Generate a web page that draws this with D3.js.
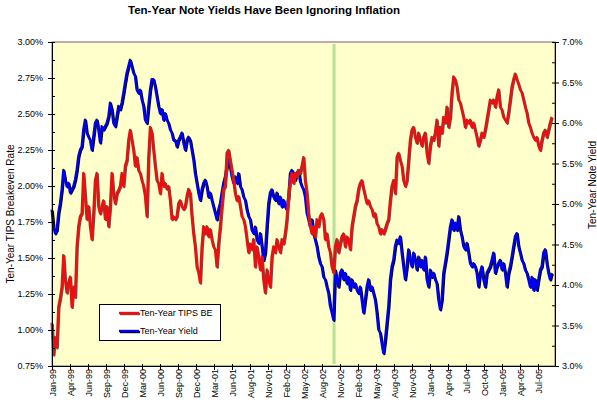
<!DOCTYPE html>
<html><head><meta charset="utf-8">
<script src="https://cdn.jsdelivr.net/npm/d3@7/dist/d3.min.js"></script>
<style>
html,body{margin:0;padding:0;background:#fff;}
svg text{font-family:"Liberation Sans",Arial,sans-serif;}
</style></head>
<body>
<svg id="chart" width="597" height="405"></svg>
<script>
// ---- data ----
const title = "Ten-Year Note Yields Have Been Ignoring Inflation";
const xLabels = ["Jan-99","Apr-99","Jun-99","Sep-99","Dec-99","Mar-00","Jun-00","Sep-00","Dec-00","Mar-01","Jun-01","Aug-01","Nov-01","Feb-02","May-02","Aug-02","Nov-02","Feb-03","May-03","Aug-03","Nov-03","Jan-04","Apr-04","Jul-04","Oct-04","Jan-05","Apr-05","Jul-05"];
const leftTicks = [0.75,1.00,1.25,1.50,1.75,2.00,2.25,2.50,2.75,3.00];
const rightTicks = [3.0,3.5,4.0,4.5,5.0,5.5,6.0,6.5,7.0];
const seriesNames = ["Ten-Year TIPS BE","Ten-Year Yield"];
// roughly weekly observations, ~10.8 per axis label slot
const samplesPerSlot = 10.8;
const firstSampleOffset = -0.2;
const markerSlot = 15.67; // Oct-02 marker
const tipsBE = [
1.05,0.83,0.95,0.88,1.16,1.22,1.30,1.52,1.35,1.26,1.33,1.37,1.16,1.30,1.23,1.58,1.72,1.79,1.81,2.09,
1.93,1.77,1.86,1.72,1.63,1.81,2.04,2.09,1.86,1.81,1.86,1.90,1.77,1.86,1.72,1.86,2.09,1.95,1.88,1.95,
1.97,2.00,2.09,2.00,2.14,2.18,2.32,2.39,2.32,2.25,2.14,2.20,2.11,2.09,2.04,2.00,1.93,1.79,2.20,2.41,
2.37,2.25,2.14,2.04,2.02,1.95,2.09,2.00,2.02,1.98,2.00,1.90,1.77,1.79,
1.77,1.79,1.88,1.90,1.86,1.84,1.86,1.93,1.98,1.95,1.79,1.67,1.58,1.44,1.40,1.33,1.58,1.72,1.67,1.72,
1.65,1.70,1.63,1.58,1.56,1.44,1.60,1.72,1.86,1.98,2.00,2.23,2.25,2.18,2.11,2.04,1.95,1.90,1.93,1.86,
1.79,1.77,1.72,1.63,1.54,1.60,1.56,1.63,1.44,1.58,1.51,1.42,1.51,1.35,1.26,1.42,1.35,1.30,1.51,1.58,
1.54,1.63,1.58,1.54,1.63,1.60,1.67,1.77,1.93,2.04,2.09,2.02,2.09,2.07,2.11,
2.09,2.14,2.20,2.04,1.95,1.81,1.72,1.67,1.72,1.65,1.77,1.72,1.79,1.81,1.77,1.63,1.67,1.58,1.54,1.44,
1.40,1.58,1.63,1.54,1.60,1.65,1.67,1.58,1.65,1.63,1.56,1.72,1.79,1.86,1.90,1.98,2.02,2.04,1.98,1.93,
1.88,1.90,1.86,1.84,1.79,1.81,1.74,1.72,1.67,1.70,1.67,1.70,1.74,1.77,1.90,2.00,2.04,1.95,2.20,2.23,
2.18,2.14,2.04,2.00,2.04,2.18,2.32,2.39,2.41,2.34,2.30,2.37,2.32,2.28,2.34,
2.37,2.23,2.16,2.28,2.34,2.32,2.37,2.46,2.28,2.41,2.37,2.48,2.44,2.55,2.41,2.48,2.65,2.76,2.74,2.69,
2.60,2.58,2.53,2.48,2.41,2.46,2.44,2.46,2.41,2.44,2.39,2.34,2.28,2.32,2.37,2.34,2.39,2.46,2.53,2.60,
2.58,2.60,2.55,2.62,2.67,2.55,2.53,2.48,2.46,2.44,2.51,2.60,2.69,2.74,2.78,2.74,2.71,2.67,2.65,2.60,
2.55,2.51,2.44,2.41,2.37,2.34,2.32,2.34,2.28,2.25,2.32,2.37,2.39,2.34,2.39,2.44,2.48
];
const noteYield = [
4.93,4.72,4.64,4.68,4.89,5.01,5.18,5.42,5.30,5.22,5.26,5.14,5.18,5.22,5.30,5.42,5.59,5.67,5.71,5.92,
6.04,5.88,5.83,5.79,5.67,5.83,6.00,6.04,5.92,5.76,5.96,5.92,5.96,6.00,6.08,6.25,6.17,6.00,5.96,6.08,
6.21,6.17,6.25,6.37,6.50,6.62,6.70,6.78,6.70,6.62,6.58,6.41,6.37,6.41,6.29,6.21,6.04,6.00,6.21,6.41,
6.54,6.54,6.45,6.33,6.21,6.12,6.17,6.04,6.12,6.04,6.00,5.92,5.88,5.79,
5.79,5.71,5.79,5.83,5.88,5.76,5.67,5.79,5.83,5.79,5.67,5.55,5.38,5.26,5.14,5.05,5.18,5.26,5.30,5.22,
5.09,5.14,5.05,4.97,4.89,4.81,4.93,5.01,5.14,5.26,5.34,5.46,5.55,5.46,5.34,5.26,5.34,5.26,5.38,5.22,
5.18,5.09,5.05,4.93,4.85,4.81,4.68,4.64,4.72,4.56,4.52,4.64,4.48,4.31,4.40,4.72,5.01,5.14,5.18,5.09,
5.05,5.14,5.01,5.09,4.97,5.05,4.97,4.93,5.09,5.38,5.42,5.38,5.30,5.38,5.42,
5.28,5.22,5.18,5.09,4.89,4.81,4.72,4.81,4.64,4.56,4.48,4.35,4.27,4.23,4.10,4.07,3.98,3.90,3.74,3.66,
3.57,4.19,4.07,3.98,4.15,4.19,4.07,4.15,4.02,4.10,3.94,4.07,3.98,4.02,3.94,3.90,3.98,3.82,3.66,3.82,
3.98,4.07,3.94,3.98,3.90,3.82,3.66,3.45,3.41,3.28,3.16,3.32,3.53,3.74,4.07,4.23,4.31,4.48,4.56,4.52,
4.60,4.40,4.23,4.07,4.23,4.44,4.31,4.23,4.40,4.31,4.19,4.35,4.23,4.31,4.19,
4.35,4.07,3.98,4.19,4.10,4.15,4.07,4.02,3.82,3.70,3.82,4.15,4.27,4.40,4.56,4.72,4.81,4.68,4.77,4.68,
4.85,4.68,4.60,4.48,4.44,4.52,4.40,4.27,4.23,4.27,4.23,4.15,3.98,4.15,4.23,4.07,3.98,4.15,4.19,4.23,
4.31,4.40,4.15,4.23,4.27,4.31,4.19,4.27,4.15,3.98,4.15,4.23,4.35,4.48,4.60,4.64,4.48,4.40,4.31,4.27,
4.19,4.15,4.07,3.98,4.10,3.94,4.07,3.94,4.07,4.19,4.23,4.40,4.44,4.27,4.15,4.07,4.15
];

// ---- layout ----
const svg = d3.select("#chart");
const L = 52, R = 555, T = 42, B = 366;
const x = d3.scaleLinear().domain([0, 27]).range([L, L + 486]);
const yL = d3.scaleLinear().domain([0.75, 3.0]).range([B, T]);
const yR = d3.scaleLinear().domain([3.0, 7.0]).range([B, T]);

svg.append("rect").attr("width",597).attr("height",405).attr("fill","#fff");
svg.append("rect").attr("x",L).attr("y",T).attr("width",R-L).attr("height",B-T)
  .attr("fill","#FFFFCC").attr("stroke","#806050").attr("stroke-width",1);

// title
svg.append("text").attr("x",264).attr("y",14).attr("text-anchor","middle")
  .attr("font-size","11.5px").attr("font-weight","bold").attr("fill","#000").text(title);

// marker line
svg.append("line").attr("x1",x(markerSlot)).attr("x2",x(markerSlot))
  .attr("y1",T+2).attr("y2",B-2).attr("stroke","#B4E29A").attr("stroke-width",3);

// lines
const slotOf = i => (i + firstSampleOffset) / samplesPerSlot;
const lineR = d3.line().x((d,i)=>x(slotOf(i))).y(d=>yR(d));
const lineL = d3.line().x((d,i)=>x(slotOf(i))).y(d=>yL(d));
const g = svg.append("g");
g.append("path").attr("d",lineR(noteYield)).attr("fill","none").attr("stroke","#000")
  .attr("stroke-width",2.4).attr("transform","translate(1,1)").attr("stroke-linejoin","round");
g.append("path").attr("d",lineR(noteYield)).attr("fill","none").attr("stroke","#0000F0")
  .attr("stroke-width",2.4).attr("stroke-linejoin","round");
g.append("path").attr("d",lineL(tipsBE)).attr("fill","none").attr("stroke","#7a4a42")
  .attr("stroke-width",2.4).attr("transform","translate(1,1)").attr("stroke-linejoin","round");
g.append("path").attr("d",lineL(tipsBE)).attr("fill","none").attr("stroke","#E81010")
  .attr("stroke-width",2.4).attr("stroke-linejoin","round");

// axes
function styleAxis(sel){
  sel.select(".domain").attr("stroke","#000");
  sel.selectAll(".tick line").attr("stroke","#000");
  sel.selectAll("text").attr("font-size","9px").attr("fill","#000");
}
const minorL = d3.range(0.75, 3.0001, 0.125);
const minorR = d3.range(3.0, 7.0001, 0.25);
svg.append("g").attr("transform",`translate(${L},0)`)
  .call(d3.axisLeft(yL).tickValues(leftTicks).tickFormat(d=>d.toFixed(2)+"%").tickSize(4).tickSizeOuter(0).tickPadding(5))
  .call(styleAxis);
svg.append("g").attr("transform",`translate(${L},0)`)
  .call(d3.axisRight(yL).tickValues(minorL).tickFormat("").tickSize(3).tickSizeOuter(0))
  .call(styleAxis);
svg.append("g").attr("transform",`translate(${R},0)`)
  .call(d3.axisRight(yR).tickValues(rightTicks).tickFormat(d=>d.toFixed(1)+"%").tickSize(4).tickSizeOuter(0).tickPadding(3))
  .call(styleAxis);
svg.append("g").attr("transform",`translate(${R},0)`)
  .call(d3.axisLeft(yR).tickValues(minorR).tickFormat("").tickSize(3).tickSizeOuter(0))
  .call(styleAxis);
const xa = svg.append("g").attr("transform",`translate(0,${B})`)
  .call(d3.axisBottom(x).tickValues(d3.range(xLabels.length)).tickFormat(i=>xLabels[i]).tickSize(4).tickSizeOuter(0))
  .call(styleAxis);
xa.select(".domain").attr("d",`M${L},0.5H${R}`);
xa.selectAll(".tick text").attr("text-anchor","end").attr("transform","rotate(-90)")
  .attr("x",-3).attr("y",0).attr("dy","0.35em");
svg.append("g").attr("transform",`translate(0,${B})`)
  .call(d3.axisTop(x).tickValues(d3.range(xLabels.length)).tickFormat("").tickSize(2).tickSizeOuter(0))
  .call(styleAxis).select(".domain").remove();

// axis titles
svg.append("text").attr("transform","translate(14,214) rotate(-90)").attr("text-anchor","middle")
  .attr("font-size","10px").attr("fill","#000").text("Ten-Year TIPS Breakeven Rate");
svg.append("text").attr("transform","translate(596,185) rotate(-90)").attr("text-anchor","middle")
  .attr("font-size","10px").attr("fill","#000").text("Ten-Year Note Yield");

// legend
const lg = svg.append("g");
lg.append("rect").attr("x",99.5).attr("y",304.5).attr("width",121).attr("height",36)
  .attr("fill","#fff").attr("stroke","#000");
const legColors = [["#E81010","#7a4a42"],["#0000F0","#000"]];
seriesNames.forEach((n,i)=>{
  const yy = 313 + i*18;
  lg.append("line").attr("x1",120).attr("x2",140).attr("y1",yy+1).attr("y2",yy+1)
    .attr("stroke",legColors[i][1]).attr("stroke-width",2.4);
  lg.append("line").attr("x1",119).attr("x2",139).attr("y1",yy).attr("y2",yy)
    .attr("stroke",legColors[i][0]).attr("stroke-width",2.4);
  lg.append("text").attr("x",140).attr("y",yy).attr("dy","0.35em")
    .attr("font-size","9px").attr("fill","#000").text(n);
});
</script>
</body></html>
